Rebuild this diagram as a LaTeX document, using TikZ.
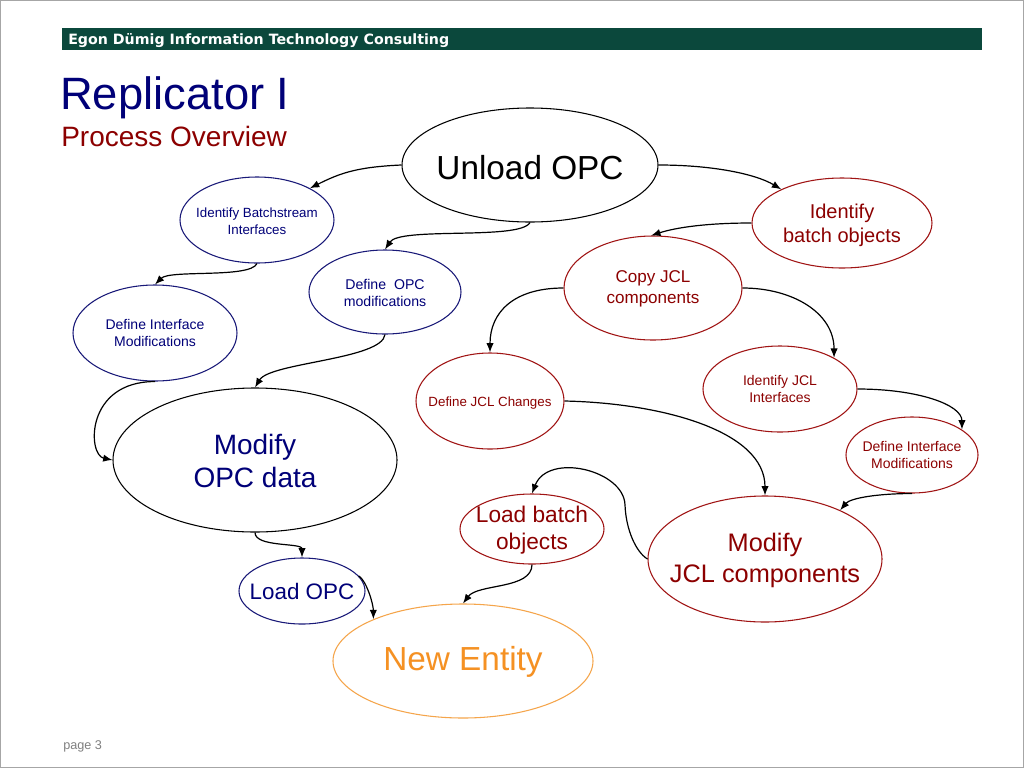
\documentclass[tikz,border=0pt]{standalone}
\usepackage{fontspec}
\setmainfont{Liberation Sans}
\newfontfamily\hdrfont{DejaVu Sans}
\usetikzlibrary{shapes.geometric,arrows.meta}
\definecolor{hdrgreen}{RGB}{11,72,60}
\definecolor{navytxt}{RGB}{0,0,120}
\definecolor{navyline}{RGB}{25,25,120}
\definecolor{redtxt}{RGB}{140,0,0}
\definecolor{redline}{RGB}{160,20,20}
\definecolor{orangetxt}{RGB}{245,145,35}
\definecolor{orangeline}{RGB}{245,165,75}
\newcommand{\fs}[2]{\fontsize{#1pt}{#2pt}\selectfont}
\tikzset{
  ell/.style={ellipse, draw, line width=0.8pt, inner sep=0pt},
  blueell/.style={ell, draw=navyline},
  redell/.style={ell, draw=redline},
  blkell/.style={ell, draw=black},
  orell/.style={ell, draw=orangeline},
  txt/.style={align=center, inner sep=0pt},
  arr/.style={draw=black, line width=0.9pt, -{Latex[length=7pt,width=5.5pt]}},
}
\begin{document}
\begin{tikzpicture}[x=0.75pt,y=-0.75pt]
\useasboundingbox (0,0) rectangle (1024,768);
\fill[white] (0,0) rectangle (1024,768);
\draw[gray!70, line width=0.8pt] (0.5,0.5) rectangle (1023.5,767.5);
% header
\fill[hdrgreen] (62,28) rectangle (982,50);
\node[anchor=base west, inner sep=0pt, text=white, font=\hdrfont\bfseries\fs{10.65}{12}] (hdr) at (68,44) {Egon Dümig Information Technology Consulting};
\node[anchor=base west, inner sep=0pt, text=navytxt, font=\fs{34}{40}] (title) at (60,109) {Replicator I};
\node[anchor=base west, inner sep=0pt, text=redtxt, font=\fs{21}{25}] (subtitle) at (61,146) {Process Overview};
\node[anchor=west, inner sep=0pt, text=gray, font=\fs{9.5}{11}] (page) at (63,746) {page 3};
% ellipses
\node[blkell, minimum width=192pt, minimum height=85.5pt] (unload) at (530,165) {};
\node[blueell, minimum width=115.5pt, minimum height=64.5pt] (ibs) at (257,220) {};
\node[blueell, minimum width=114pt, minimum height=63pt] (dopc) at (385,292) {};
\node[blueell, minimum width=123pt, minimum height=72pt] (dim1) at (155,333) {};
\node[blkell, minimum width=213pt, minimum height=108pt] (mopc) at (255,460) {};
\node[blueell, minimum width=94.5pt, minimum height=49.5pt] (lopc) at (302,591) {};
\node[orell, minimum width=195pt, minimum height=85.5pt] (newent) at (463,661) {};
\node[redell, minimum width=135pt, minimum height=67.5pt] (ibo) at (842,223) {};
\node[redell, minimum width=133.5pt, minimum height=78pt] (cjcl) at (653,288) {};
\node[redell, minimum width=111pt, minimum height=72pt] (djcl) at (490,401) {};
\node[redell, minimum width=115.5pt, minimum height=64.5pt] (ijcl) at (780,389) {};
\node[redell, minimum width=99pt, minimum height=57pt] (dim2) at (912,455) {};
\node[redell, minimum width=108pt, minimum height=52.5pt] (lbo) at (532,529) {};
\node[redell, minimum width=175.5pt, minimum height=94.5pt] (mjcl) at (765,559) {};
% texts
\node[txt, font=\fs{25}{30}] (unloadT) at (530,168) {Unload OPC};
\node[txt, text=navytxt, font=\fs{10}{12.8}] (ibsT) at (257,221) {Identify Batchstream\\Interfaces};
\node[txt, text=navytxt, font=\fs{10.6}{12.8}] (dopcT) at (385,293) {Define\ \ OPC\\modifications};
\node[txt, text=navytxt, font=\fs{10.5}{12.8}] (dim1T) at (155,333) {Define Interface\\Modifications};
\node[txt, text=navytxt, font=\fs{21}{25}] (mopcT) at (255,461) {Modify\\OPC data};
\node[txt, text=navytxt, font=\fs{16.8}{20}] (lopcT) at (302,591) {Load OPC};
\node[txt, text=orangetxt, font=\fs{25}{30}] (newentT) at (463,662) {New Entity};
\node[txt, text=redtxt, font=\fs{15}{18}] (iboT) at (842,225) {Identify\\batch objects};
\node[txt, text=redtxt, font=\fs{12.8}{15.75}] (cjclT) at (653,289) {Copy JCL\\components};
\node[txt, text=redtxt, font=\fs{10}{12}] (djclT) at (490,403) {Define JCL Changes};
\node[txt, text=redtxt, font=\fs{10.5}{12.75}] (ijclT) at (780,389) {Identify JCL\\Interfaces};
\node[txt, text=redtxt, font=\fs{10.5}{12.75}] (dim2T) at (912,455) {Define Interface\\Modifications};
\node[txt, text=redtxt, font=\fs{17}{20.25}] (lboT) at (532,530) {Load batch\\objects};
\node[txt, text=redtxt, font=\fs{19}{23.25}] (mjclT) at (765,560) {Modify\\JCL components};
% connectors
\draw[arr] (unload.west) .. controls +(-45,2) and +(30,-15) .. (ibs.31);
\draw[arr] (unload.east) .. controls +(55,0) and +(-25,-15) .. (ibo.151);
\draw[arr] (unload.south) .. controls +(-10,18) and +(15,-23) .. (dopc.north);
\draw[arr] (ibs.south) .. controls +(-7,15) and +(15,-15) .. (dim1.north);
\draw[arr] (dopc.south) .. controls +(-3,25) and +(15,-25) .. (mopc.north);
\draw[arr] (dim1.south) .. controls +(-70,0) and +(-25,-5) .. (mopc.west);
\draw[arr] (ibo.west) .. controls +(-45,0) and +(25,-8) .. (cjcl.92);
\draw[arr] (cjcl.west) .. controls +(-50,0) and +(0,-40) .. (djcl.north);
\draw[arr] (cjcl.east) .. controls +(50,0) and +(0,-45) .. (ijcl.30);
\draw[arr] (ijcl.east) .. controls +(60,0) and +(0,-25) .. (dim2.27);
\draw[arr] (djcl.east) .. controls +(96,2) and +(0,-65) .. (mjcl.north);
\draw[arr] (dim2.south) .. controls +(-35,0) and +(10,-12) .. (mjcl.33);
\draw[arr] (mjcl.west) .. controls (636,552) and (626,530) .. (625,505) .. controls (624,470) and (548,452) .. (lbo.north);
\draw[arr] (lbo.south) .. controls +(0,25) and +(15,-20) .. (newent.north);
\draw[arr] (mopc.south) .. controls +(0,15) and +(0,-15) .. (lopc.north);
\draw[arr] (lopc.15) .. controls +(8,5) and +(0,-15) .. (newent.155);
\end{tikzpicture}
\end{document}
